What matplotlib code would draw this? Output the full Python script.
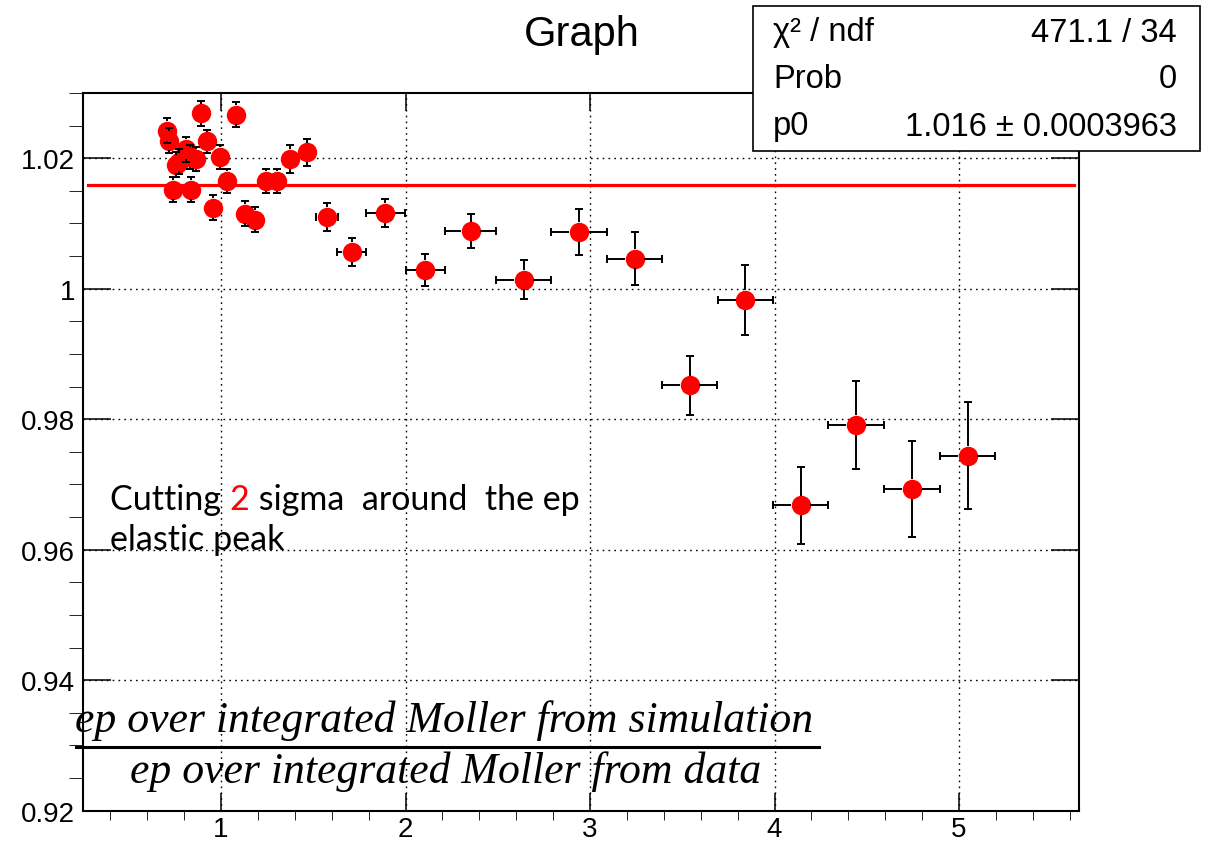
import matplotlib
matplotlib.use('Agg')
import matplotlib.pyplot as plt
from matplotlib.ticker import MultipleLocator, FuncFormatter
from matplotlib.patches import Rectangle
from matplotlib.lines import Line2D
from matplotlib.collections import LineCollection

plt.rcParams['font.family'] = ['Liberation Sans', 'DejaVu Sans']

# points
x = [0.706, 0.720, 0.738, 0.753, 0.774, 0.811, 0.829, 0.838, 0.865, 0.892,
     0.923, 0.955, 0.995, 1.033, 1.082, 1.127, 1.185, 1.241, 1.304, 1.376,
     1.465, 1.573, 1.709, 1.891, 2.107, 2.352, 2.640, 2.940, 3.242, 3.540,
     3.842, 4.142, 4.442, 4.744, 5.046]
y = [1.0242, 1.0227, 1.0152, 1.0190, 1.0195, 1.0214, 1.0202, 1.0152, 1.0199, 1.0269,
     1.0226, 1.0124, 1.0202, 1.0165, 1.0267, 1.0115, 1.0106, 1.0165, 1.0165, 1.0199,
     1.0209, 1.0110, 1.0056, 1.0116, 1.0029, 1.0088, 1.0014, 1.0087, 1.0046, 0.9852,
     0.9983, 0.9668, 0.9791, 0.9693, 0.9744]
ex = [0.005, 0.005, 0.006, 0.006, 0.007, 0.008, 0.008, 0.008, 0.009, 0.010,
      0.011, 0.012, 0.013, 0.015, 0.017, 0.019, 0.022, 0.025, 0.028, 0.035,
      0.040, 0.060, 0.079, 0.107, 0.106, 0.140, 0.150, 0.150, 0.150, 0.150,
      0.150, 0.150, 0.150, 0.150, 0.150]
ey = [0.0019, 0.0019, 0.0019, 0.0019, 0.0019, 0.0019, 0.0019, 0.0019, 0.0019, 0.0019,
      0.0018, 0.0019, 0.0019, 0.0019, 0.0019, 0.0019, 0.0019, 0.0019, 0.0019, 0.0022,
      0.0021, 0.0021, 0.0021, 0.0021, 0.0025, 0.0026, 0.0030, 0.0035, 0.0041, 0.0045,
      0.0054, 0.0059, 0.0067, 0.0074, 0.0082]
p0 = 1.0159

stat_names = ['χ² / ndf', 'Prob', 'p0']
stat_values = ['471.1 / 34', '0', '1.016 ± 0.0003963']

W, H = 1205, 845
fig = plt.figure(figsize=(W / 100, H / 100), dpi=100)
ax = fig.add_axes([82.7 / W, 1 - 811.7 / H, (1079 - 82.7) / W, (811.7 - 94) / H])
xlim = (0.25, 5.65)
ylim = (0.92, 1.03)
ax.set_xlim(*xlim)
ax.set_ylim(*ylim)

ms = 14
ax.plot(x, y, 'o', color='red', ms=ms, mew=0, zorder=3)

# ROOT style error bars: start at the marker edge, small caps at the ends
r_px = ms / 2 * 100 / 72
gx = r_px * (xlim[1] - xlim[0]) / ((1079 - 82.7))
gy = r_px * (ylim[1] - ylim[0]) / ((811.7 - 94))
vseg, hseg = [], []
vcap_x, vcap_y, hcap_x, hcap_y = [], [], [], []
for xi, yi, exi, eyi in zip(x, y, ex, ey):
    if eyi > gy:
        vseg.append([(xi, yi + gy), (xi, yi + eyi)])
        vseg.append([(xi, yi - eyi), (xi, yi - gy)])
        vcap_x += [xi, xi]
        vcap_y += [yi + eyi, yi - eyi]
    if exi > gx:
        hseg.append([(xi + gx, yi), (xi + exi, yi)])
        hseg.append([(xi - exi, yi), (xi - gx, yi)])
        hcap_x += [xi + exi, xi - exi]
        hcap_y += [yi, yi]
ax.add_collection(LineCollection(vseg + hseg, colors='black', linewidths=1.4, zorder=4))
ax.plot(vcap_x, vcap_y, '_', color='black', ms=6, mew=1.4, zorder=4)
ax.plot(hcap_x, hcap_y, '|', color='black', ms=6, mew=1.4, zorder=4)

ax.axhline(p0, xmin=0.005, xmax=0.995, color='red', lw=2.3, zorder=2)

ax.xaxis.set_major_locator(MultipleLocator(1))
ax.xaxis.set_minor_locator(MultipleLocator(0.2))
ax.yaxis.set_major_locator(MultipleLocator(0.02))
ax.yaxis.set_minor_locator(MultipleLocator(0.005))
fmt = FuncFormatter(lambda v, p: '%g' % round(v, 4))
ax.xaxis.set_major_formatter(fmt)
ax.yaxis.set_major_formatter(fmt)
ax.tick_params(direction='in', top=True, right=True, width=1.1, labelsize=20)
ax.tick_params(axis='x', which='major', length=13, pad=4)
ax.tick_params(axis='x', which='minor', length=6.5)
ax.tick_params(axis='y', which='major', length=20, pad=5.5)
ax.tick_params(axis='y', which='minor', length=10)
for s in ax.spines.values():
    s.set_linewidth(1.5)
ax.set_axisbelow(True)
ax.grid(which='major', color='black', linestyle=(0, (1.2, 3)), linewidth=1.0)

fig.text(582 / W, 1 - 35 / H, 'Graph', ha='center', va='center', fontsize=30)

# stats box
fig.add_artist(Rectangle((753 / W, 1 - 152 / H), (1200 - 753) / W, (152 - 7) / H,
                         transform=fig.transFigure, facecolor='white',
                         edgecolor='black', lw=1.2, zorder=5))
for row, (name, val) in zip([33, 80, 127], zip(stat_names, stat_values)):
    fig.text(773 / W, 1 - row / H, name, ha='left', va='center', fontsize=23.5, zorder=6)
    fig.text(1177 / W, 1 - row / H, val, ha='right', va='center', fontsize=23.5, zorder=6)

# annotation inside the plot
tf = dict(fontfamily='Lato', fontsize=24.5)
t1 = fig.text(110 / W, 1 - 500 / H, 'Cutting ', va='center', **tf)
t2 = ax.annotate('2', xy=(1, 0), xycoords=t1, ha='left', va='bottom', color='red', **tf)
ax.annotate(' sigma  around  the ep', xy=(1, 0), xycoords=t2, ha='left', va='bottom', **tf)
fig.text(110 / W, 1 - 540 / H, 'elastic peak', va='center', **tf)

# y-axis title written as a fraction
ff = dict(family='Liberation Serif', style='italic', fontsize=31.5, ha='center', va='center')
fig.text(444 / W, 1 - 721 / H, 'ep over integrated Moller from simulation', **ff)
fig.add_artist(Line2D([76 / W, 819 / W], [1 - 748 / H, 1 - 748 / H],
                      transform=fig.transFigure, color='black', lw=2.2))
fig.text(446 / W, 1 - 772 / H, 'ep over integrated Moller from data', **ff)

fig.savefig('out.png', dpi=100)
